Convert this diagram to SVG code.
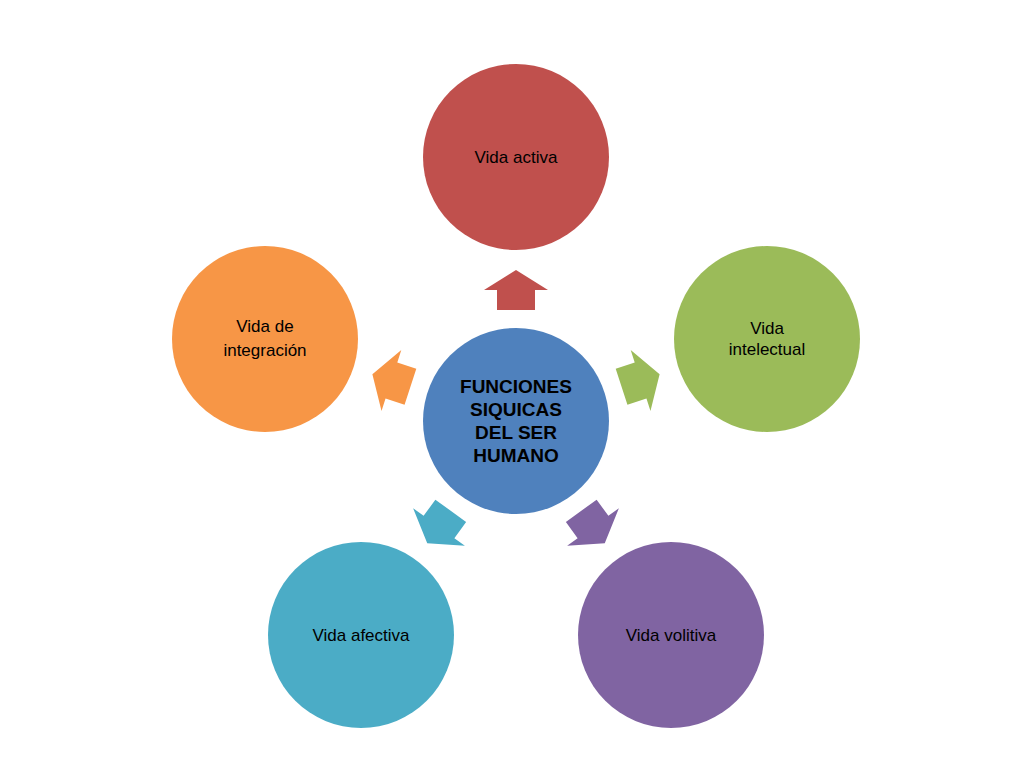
<svg xmlns="http://www.w3.org/2000/svg" width="1024" height="768" viewBox="0 0 1024 768">
<style>
text{font-family:"Liberation Sans",Arial,sans-serif;font-size:17px;fill:#000;text-anchor:middle}
.c{font-weight:bold;font-size:19px}
</style>
<defs>
<polygon id="arr" points="0,-151 32,-131 19,-131 19,-111 -19,-111 -19,-131 -32,-131"/>
</defs>
<rect width="1024" height="768" fill="#fff"/>
<g id="connectors" transform="translate(516,421)">
<use href="#arr" fill="#C0504D"/>
<use href="#arr" fill="#9BBB59" transform="rotate(72)"/>
<use href="#arr" fill="#8064A2" transform="rotate(144)"/>
<use href="#arr" fill="#4BACC6" transform="rotate(216)"/>
<use href="#arr" fill="#F79646" transform="rotate(288)"/>
</g>
<g id="center"><circle cx="516" cy="421" r="93" fill="#4F81BD"/>
<text class="c" x="516" y="393">FUNCIONES</text><text class="c" x="516" y="416">SIQUICAS</text><text class="c" x="516" y="439">DEL SER</text><text class="c" x="516" y="462">HUMANO</text></g>
<g id="activa"><circle cx="516" cy="157" r="93" fill="#C0504D"/><text x="516" y="163">Vida activa</text></g>
<g id="intelectual"><circle cx="767" cy="339" r="93" fill="#9BBB59"/><text x="767" y="334">Vida</text><text x="767" y="355">intelectual</text></g>
<g id="volitiva"><circle cx="671" cy="635" r="93" fill="#8064A2"/><text x="671" y="641">Vida volitiva</text></g>
<g id="afectiva"><circle cx="361" cy="635" r="93" fill="#4BACC6"/><text x="361" y="641">Vida afectiva</text></g>
<g id="integracion"><circle cx="265" cy="339" r="93" fill="#F79646"/><text x="265" y="332">Vida de</text><text x="265" y="356">integración</text></g>
</svg>
